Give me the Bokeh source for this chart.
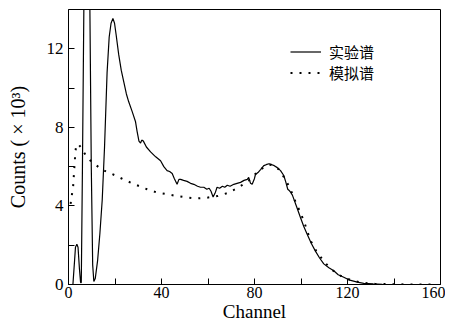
from bokeh.plotting import figure
from bokeh.models import FixedTicker, Legend, LegendItem, Range1d
from bokeh.embed import file_html
from bokeh.resources import INLINE

# Experimental spectrum (实验谱)
exp_x = [1.0, 1.9, 2.6, 3.0, 3.6, 4.1, 4.7, 5.2, 5.5, 6.0, 6.6, 7.9, 9.2, 9.8, 10.4, 10.9,
         11.5, 12.5, 13.5, 14.5, 15.5, 16.6, 17.5, 18.3, 19.1, 19.8, 20.5, 21.6, 22.7, 23.8,
         24.9, 25.9, 27.4, 28.8, 29.5, 30.3, 31.0, 31.5, 32.2, 33.5, 35.3, 37.5, 39.6, 41.0,
         42.4, 43.5, 44.6, 45.5, 46.7, 47.5, 48.2, 49.5, 51.0, 52.5, 53.9, 55.5, 56.8, 58.2,
         59.5, 60.5, 61.3, 62.2, 63.2, 63.9, 65.0, 66.2, 67.2, 68.3, 69.5, 71.1, 72.5, 74.0,
         75.5, 76.9, 77.5, 78.3, 79.0, 80.0, 80.4, 81.5, 82.6, 84.0, 85.0, 86.2, 87.5, 88.5,
         89.8, 91.2, 92.6, 93.5, 94.3, 94.8, 95.5, 96.3, 98.0, 99.8, 101.2, 102.7, 104.4,
         106.2, 108.0, 109.8, 112.0, 114.1, 116.0, 118.4, 121.0, 124.2, 127.0, 131.0, 135.0,
         140.0]
exp_y = [0.0, 0.0, 1.2, 1.9, 2.05, 1.9, 0.8, 0.1, 0.1, 6.0, 14.0, 30.0, 14.0, 6.0, 1.0, 0.15,
         0.3, 1.2, 2.6, 4.3, 7.0, 10.8, 12.6, 13.3, 13.55, 13.3, 12.7, 11.7, 10.9, 10.3,
         9.7, 9.3, 8.8, 8.3, 7.8, 7.3, 7.2, 7.35, 7.3, 7.0, 6.75, 6.5, 6.3, 6.0,
         5.8, 5.75, 5.65, 5.4, 5.1, 5.35, 5.35, 5.3, 5.25, 5.15, 5.1, 5.0, 4.95, 4.95,
         4.85, 4.9, 4.75, 4.45, 4.7, 4.95, 4.9, 5.0, 4.95, 5.05, 5.0, 5.1, 5.15, 5.2,
         5.3, 5.35, 5.45, 5.15, 5.1, 5.4, 5.6, 5.7, 5.85, 6.05, 6.1, 6.15, 6.1, 6.05,
         5.95, 5.8, 5.55, 5.2, 4.85, 4.8, 4.7, 4.55, 4.0, 3.4, 2.95, 2.55, 2.1,
         1.7, 1.35, 1.05, 0.85, 0.7, 0.5, 0.37, 0.22, 0.12, 0.06, 0.03, 0.01,
         0.0]

# Simulated spectrum (模拟谱)
sim_x = [0.9, 1.5, 2.0, 2.6, 3.0, 3.4, 4.2, 5.2, 7.3, 9.5, 11.6, 13.8, 15.9, 20.2, 24.5,
         29.5, 33.8, 38.1, 42.4, 46.7, 51.0, 55.3, 59.6, 64.0, 68.5, 73.0, 77.6, 82.3,
         86.5, 88.5, 90.5, 93.3, 95.5, 97.3, 99.1, 101.2, 104.1, 106.6, 110.0, 113.4,
         117.6, 122.0, 127.0, 132.0, 140.0, 150.0, 158.0]
sim_y = [4.1, 4.6, 5.0, 6.1, 6.8, 7.1, 7.15, 7.0, 6.6, 6.3, 6.1, 5.9, 5.77, 5.55, 5.3,
         5.05, 4.85, 4.68, 4.6, 4.5, 4.43, 4.38, 4.42, 4.5, 4.66, 4.93, 5.3, 5.85,
         6.1, 6.05, 5.85, 5.35, 4.84, 4.3, 3.83, 3.24, 2.23, 1.7, 1.15, 0.74,
         0.4, 0.2, 0.08, 0.03, 0.01, 0.0, 0.0]

x_major = [0, 40, 80, 120, 160]
x_minor = [20, 60, 100, 140]
y_major = [0, 4, 8, 12]
y_minor = [2, 6, 10]

SERIF = "Liberation Serif"
CJK = "Noto Sans CJK SC"

p = figure(width=445, height=326, output_backend="svg", toolbar_location=None,
           x_range=Range1d(0, 160), y_range=Range1d(0, 14),
           min_border_left=68, min_border_right=5, min_border_top=9, min_border_bottom=42)
p.grid.visible = False
p.outline_line_color = "black"
p.outline_line_width = 1
p.background_fill_color = "white"
p.border_fill_color = "white"

r1 = p.line(exp_x, exp_y, line_color="black", line_width=1.2)
r2 = p.line(sim_x, sim_y, line_color="black", line_width=2, line_dash="2 7")

for ax, maj, mnr in ((p.xaxis[0], x_major, x_minor), (p.yaxis[0], y_major, y_minor)):
    ax.ticker = FixedTicker(ticks=maj, minor_ticks=mnr)
    ax.major_tick_in = 6
    ax.major_tick_out = 0
    ax.minor_tick_in = 6
    ax.minor_tick_out = 0
    ax.axis_line_color = "black"
    ax.major_tick_line_color = "black"
    ax.minor_tick_line_color = "black"
    ax.major_label_text_font = SERIF
    ax.major_label_text_font_size = "17px"
    ax.major_label_text_color = "black"
    ax.axis_label_text_font = SERIF
    ax.axis_label_text_font_size = "20px"
    ax.axis_label_text_font_style = "normal"
    ax.axis_label_text_color = "black"

p.xaxis.axis_label = "Channel"
p.xaxis.major_label_standoff = 2
p.xaxis.axis_label_standoff = 0
p.xaxis.major_label_text_font_size = "16px"
p.xaxis.axis_label_text_font_size = "19px"
p.yaxis.axis_label = "Counts ( × 10³)"
p.yaxis.major_label_standoff = 5
p.yaxis.axis_label_standoff = 15

legend = Legend(items=[LegendItem(label="实验谱", renderers=[r1]),
                       LegendItem(label="模拟谱", renderers=[r2])],
                location=(222, 201))
legend.label_text_font = CJK
legend.label_text_font_size = "15px"
legend.label_text_color = "black"
legend.glyph_width = 31
legend.glyph_height = 15
legend.label_height = 15
legend.label_standoff = 8
legend.spacing = 0
legend.padding = 0
legend.margin = 0
legend.border_line_color = None
legend.background_fill_alpha = 0
p.add_layout(legend, "center")

open("out.html", "w").write(file_html(p, INLINE))
